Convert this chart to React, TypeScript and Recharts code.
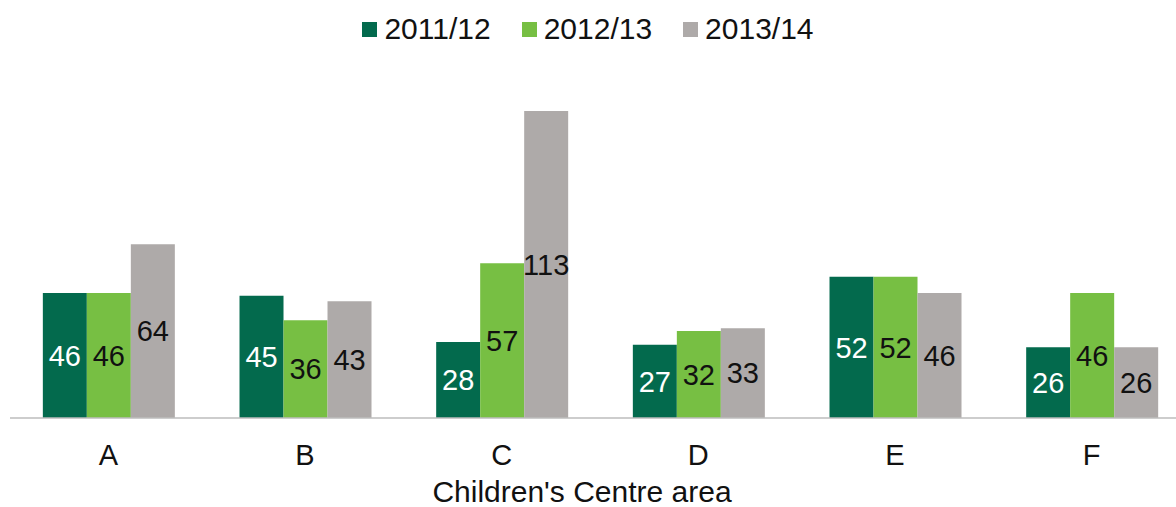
import { BarChart, Bar, XAxis, YAxis, Legend, LabelList, Label } from 'recharts'

const categories = ['A', 'B', 'C', 'D', 'E', 'F']
const y2011 = [46, 45, 28, 27, 52, 26]
const y2012 = [46, 36, 57, 32, 52, 46]
const y2013 = [64, 43, 113, 33, 46, 26]

const seriesNames = ['2011/12', '2012/13', '2013/14']
const colors = ['#036A4D', '#77BF43', '#AEAAA9']
const labelColors = ['#FFFFFF', '#111111', '#111111']

const data = categories.map((c, i) => ({
  name: c,
  s0: y2011[i],
  s1: y2012[i],
  s2: y2013[i],
}))

const font = '"Liberation Sans", Arial, sans-serif'

function LegendBox() {
  return (
    <div style={{ display: 'flex', justifyContent: 'center', alignItems: 'center', width: 1176, fontFamily: font, fontSize: 30, color: '#111' }}>
      {seriesNames.map((n, i) => (
        <div key={n} style={{ display: 'flex', alignItems: 'center', marginRight: i < 2 ? 31 : 0 }}>
          <span style={{ display: 'inline-block', width: 15, height: 15, background: colors[i], marginRight: 7 }} />
          <span style={{ lineHeight: '30px' }}>{n}</span>
        </div>
      ))}
    </div>
  )
}

export default function App() {
  return (
    <div style={{ position: 'fixed', left: 0, top: 0, width: 1176, height: 507, overflow: 'hidden', background: '#fff' }}>
      <BarChart
        width={1200}
        height={507}
        data={data}
        margin={{ top: 92, right: 10, left: 10, bottom: 30 }}
        barCategoryGap="16.7%"
        barGap={0}
      >
        <XAxis
          dataKey="name"
          axisLine={{ stroke: '#BDBDBD', strokeWidth: 1.5 }}
          tickLine={false}
          tickMargin={20}
          height={59}
          tick={{ fill: '#111', fontSize: 29, fontFamily: font }}
        >
          <Label
            value="Children's Centre area"
            position="bottom"
            offset={4}
            dx={-18}
            style={{ fill: '#111', fontSize: 30, fontFamily: font }}
          />
        </XAxis>
        <YAxis hide domain={[0, 120]} />
        <Legend verticalAlign="middle" content={() => <LegendBox />} wrapperStyle={{ top: 14, left: 0, width: 1176 }} />
        {['s0', 's1', 's2'].map((k, i) => (
          <Bar key={k} dataKey={k} name={seriesNames[i]} fill={colors[i]} isAnimationActive={false}>
            <LabelList
              dataKey={k}
              position="center"
              fill={labelColors[i]}
              style={{ fontSize: 29, fontFamily: font }}
            />
          </Bar>
        ))}
      </BarChart>
    </div>
  )
}
